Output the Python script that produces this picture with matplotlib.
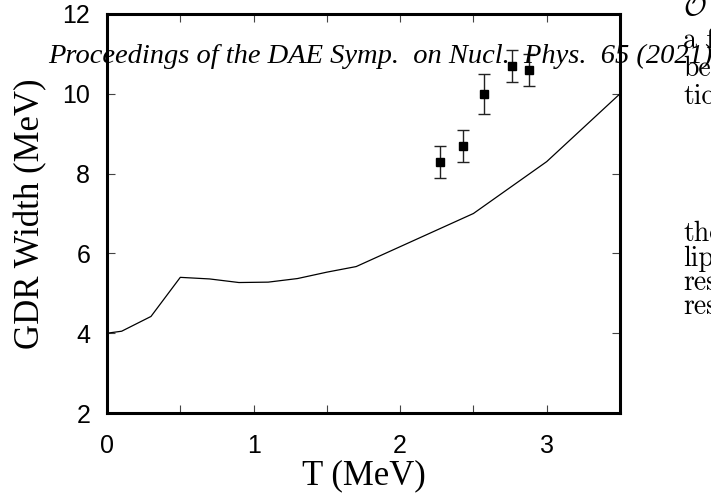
import matplotlib
matplotlib.use("Agg")
import matplotlib.pyplot as plt

# theory curve
T_theory = [0.0, 0.1, 0.3, 0.5, 0.7, 0.9, 1.1, 1.3, 1.5, 1.7, 2.5, 3.0, 3.5]
W_theory = [4.0, 4.05, 4.42, 5.40, 5.36, 5.27, 5.28, 5.37, 5.53, 5.67, 7.0, 8.3, 10.0]

# experimental points
T_exp = [2.27, 2.43, 2.57, 2.76, 2.88]
W_exp = [8.3, 8.7, 10.0, 10.7, 10.6]
W_err = [0.4, 0.4, 0.5, 0.4, 0.4]

x_major = [0, 1, 2, 3]
x_minor = [0.5, 1.5, 2.5, 3.5]
y_major = [2, 4, 6, 8, 10, 12]

plt.rcParams['mathtext.fontset'] = 'cm'

fig = plt.figure(figsize=(7.11, 4.99), dpi=100)
ax = fig.add_axes([0.1505, 0.1723, 0.7215, 0.7997])

ax.plot(T_theory, W_theory, color='black', lw=0.9)
ax.errorbar(T_exp, W_exp, yerr=W_err, fmt='s', color='black', ms=6,
            ecolor='#222222', elinewidth=1.0, capsize=4, capthick=1.0)

ax.set_xlim(0, 3.5)
ax.set_ylim(2, 12)
ax.set_xticks(x_major)
ax.set_xticks(x_minor, minor=True)
ax.set_yticks(y_major)

for s in ax.spines.values():
    s.set_linewidth(2.2)
ax.tick_params(which='both', direction='in', top=True, right=True,
               length=6, width=0.8, color='#444444')
ax.tick_params(axis='x', pad=15)
ax.tick_params(axis='y', pad=12)
for lab in ax.get_xticklabels() + ax.get_yticklabels():
    lab.set_family('Liberation Sans')
    lab.set_fontsize(18)

ax.set_xlabel('T (MeV)', family='Liberation Serif', fontsize=25, labelpad=1)
ax.set_ylabel('GDR Width (MeV)', family='Liberation Serif', fontsize=25, labelpad=11)

# overlaid page text from the proceedings
fig.text(48 / 711, 1 - 63 / 499,
         'Proceedings of the DAE Symp.  on Nucl.  Phys.  65 (2021)',
         family='Liberation Serif', style='italic', fontsize=20.5,
         ha='left', va='baseline')

fig.text(683 / 711, 1 - 15 / 499, r'$\mathcal{O}$', fontsize=20,
         ha='left', va='baseline')
frags = [('a f', 48), ('be', 76), ('tio', 104),
         ('the', 241), ('lip', 266), ('res', 290), ('res', 314)]
for txt, yb in frags:
    fig.text(683 / 711, 1 - yb / 499, txt, family='cmr10', fontsize=20,
             ha='left', va='baseline')

fig.savefig('out.png', dpi=100)
